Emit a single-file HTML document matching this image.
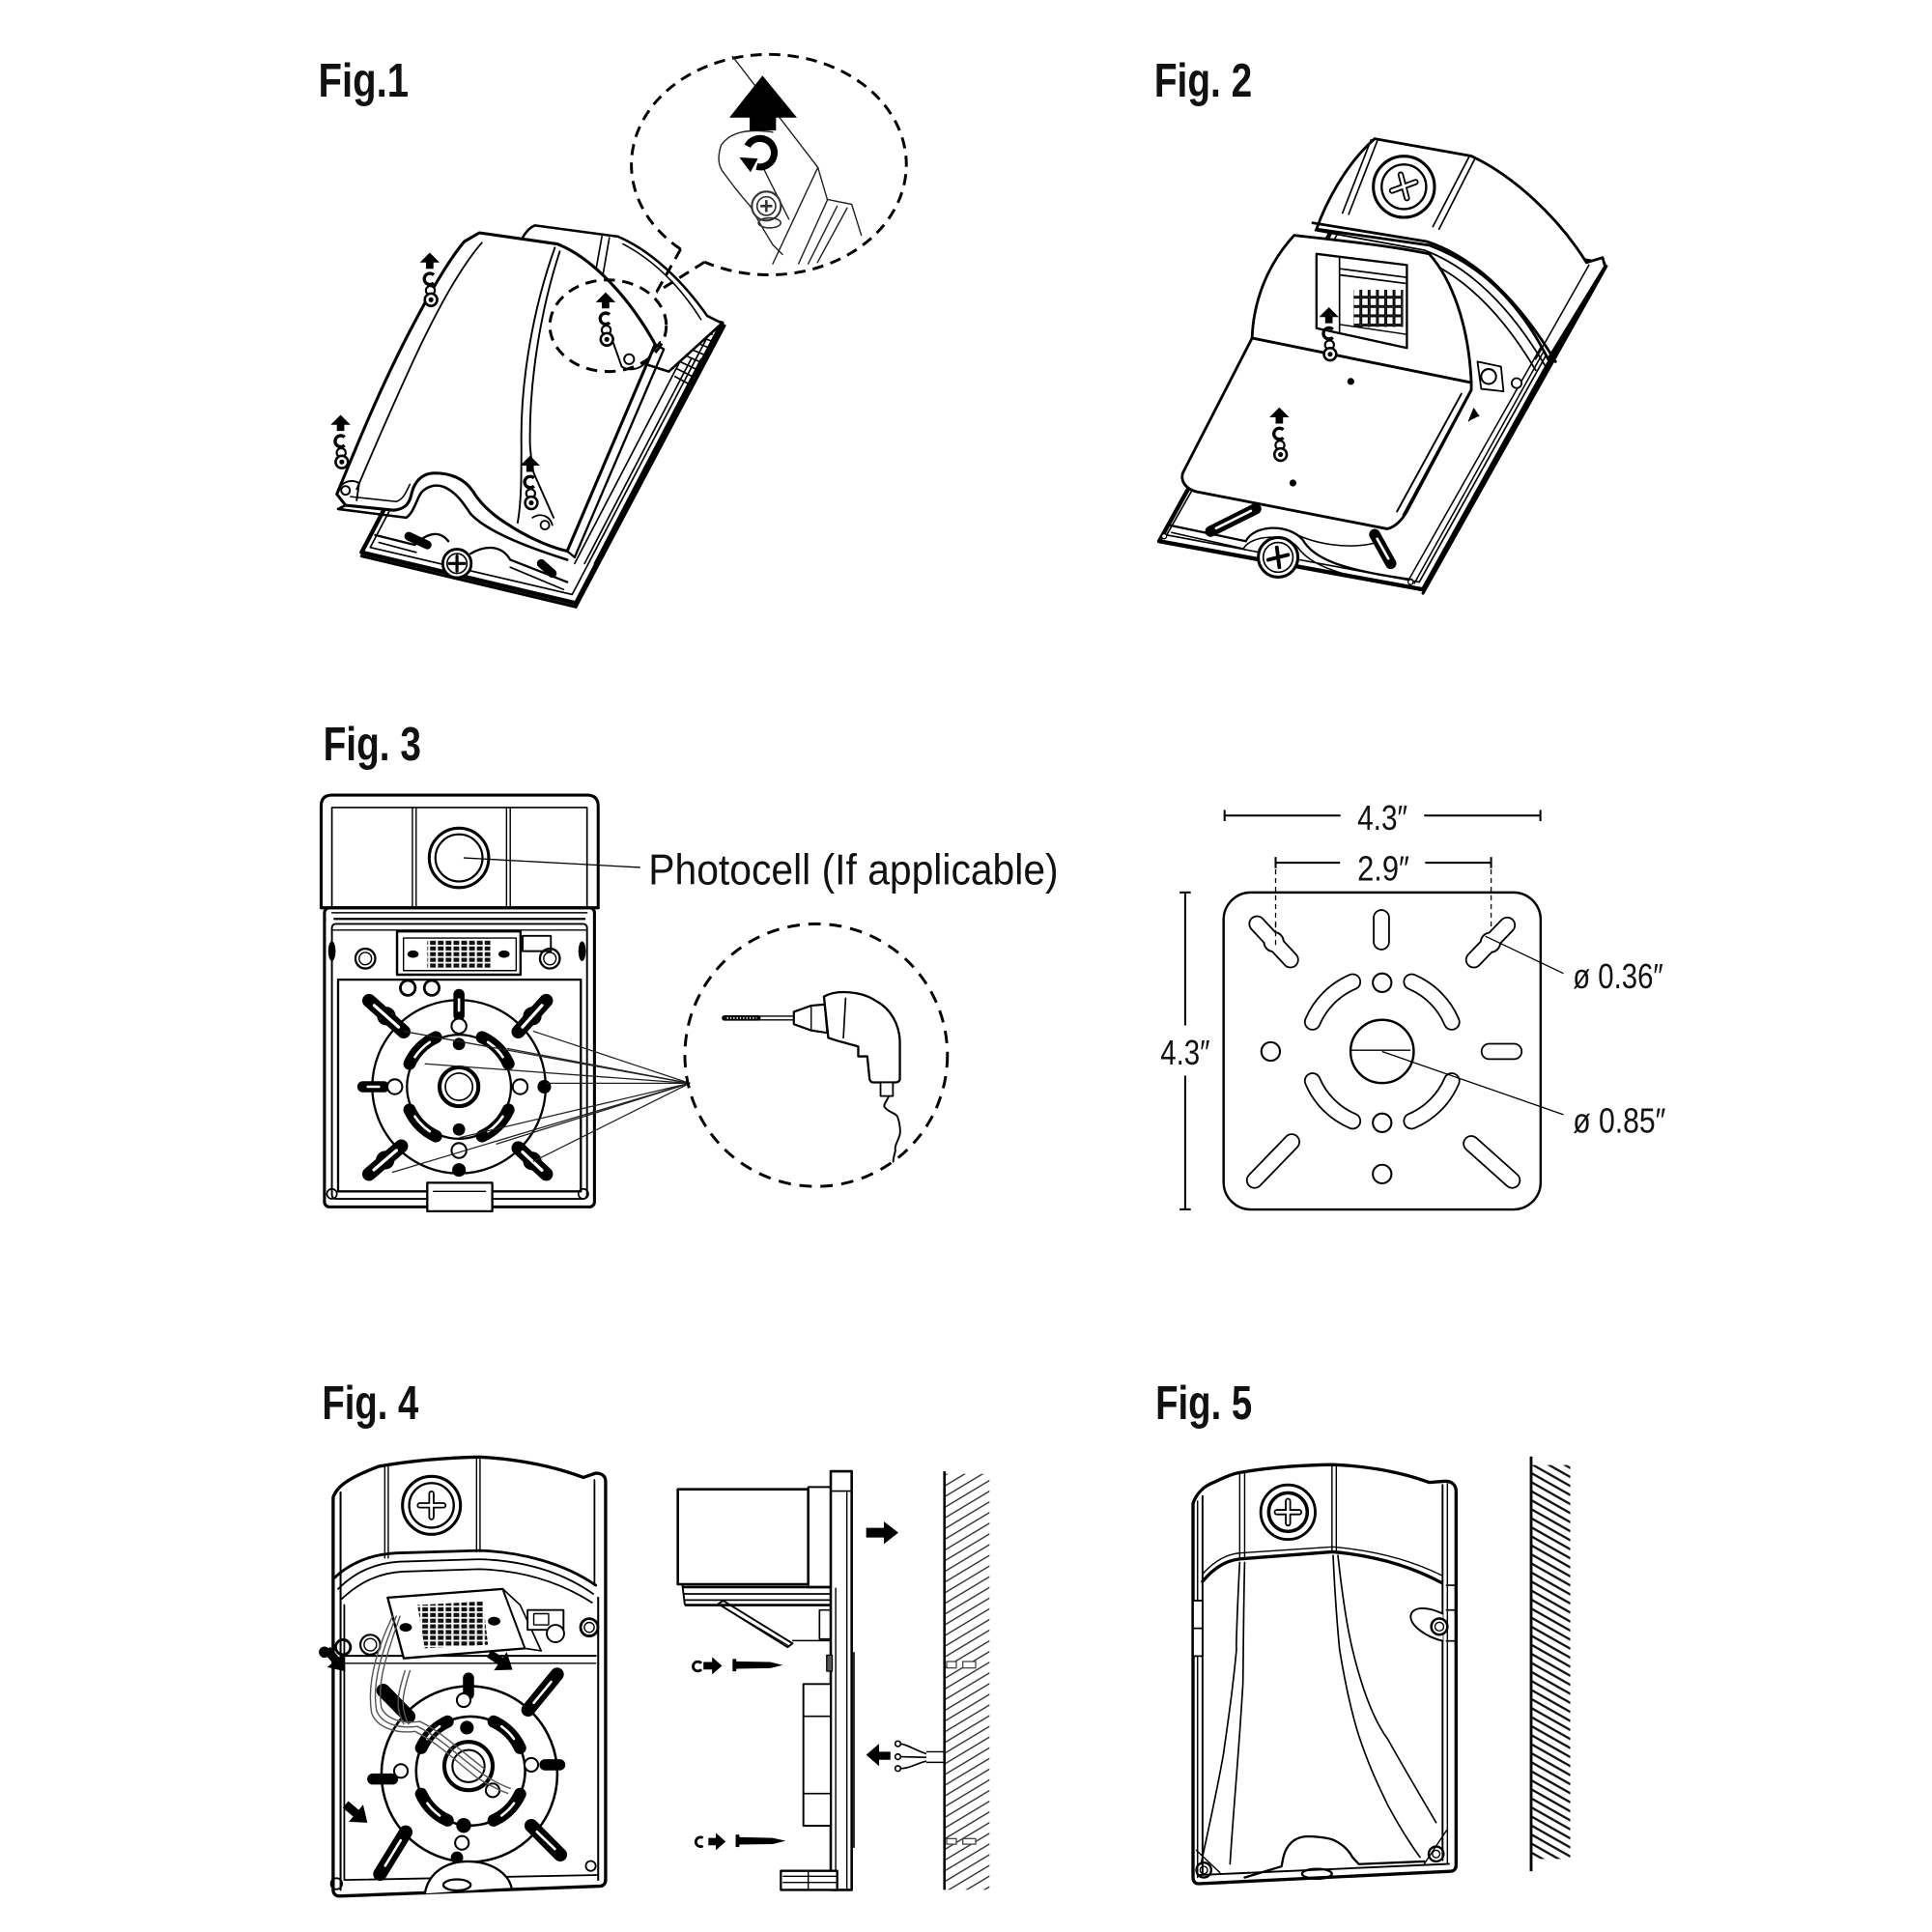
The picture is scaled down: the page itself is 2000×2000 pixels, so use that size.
<!DOCTYPE html>
<html><head><meta charset="utf-8"><style>
html,body{margin:0;padding:0;background:#fff;}
svg{display:block;}
text{font-family:"Liberation Sans Narrow","Liberation Sans",sans-serif;fill:#111;}
</style></head><body>
<svg width="2000" height="2000" viewBox="0 0 1560 1560" xmlns="http://www.w3.org/2000/svg">
<defs>
<pattern id="led" width="6.3" height="4.6" patternUnits="userSpaceOnUse"><rect width="6.3" height="4.6" fill="#fff"/><rect x="0.8" y="0.6" width="4.6" height="3.3" fill="#111"/></pattern>
<pattern id="led2" width="6.7" height="7.5" patternUnits="userSpaceOnUse"><rect x="0.6" y="0.6" width="5.5" height="6.3" fill="#fff" stroke="#000" stroke-width="1.1"/></pattern>
<pattern id="h4" width="20" height="7.4" patternUnits="userSpaceOnUse" patternTransform="rotate(-31)"><rect width="20" height="1.1" fill="#333"/></pattern>
<pattern id="h5" width="20" height="6.35" patternUnits="userSpaceOnUse" patternTransform="rotate(29.5)"><rect width="20" height="1.8" fill="#111"/></pattern>
<g id="sa">
<path d="M0,0 L8,8 L3,8 L3,13 L-3,13 L-3,8 L-8,8 Z" fill="#000"/>
<path d="M3.2,18 A4.5,4.5 0 1 0 3.2,24.5" fill="none" stroke="#000" stroke-width="2.6"/>
<circle cx="0.5" cy="30.5" r="3.6" fill="#fff" stroke="#000" stroke-width="1.7"/>
<circle cx="1" cy="38" r="5" fill="#fff" stroke="#000" stroke-width="2"/>
<circle cx="1" cy="38" r="2" fill="#000"/>
</g>
<clipPath id="c4"><rect x="763" y="1190" width="36" height="336"/></clipPath>
<clipPath id="c5"><rect x="1237" y="1183" width="31" height="318"/></clipPath>
</defs>
<rect width="1560" height="1560" fill="#fff"/>

<!-- Titles -->
<text x="257" y="78" font-size="38" font-weight="bold" textLength="73" lengthAdjust="spacingAndGlyphs">Fig.1</text>
<text x="932" y="78" font-size="38" font-weight="bold" textLength="79" lengthAdjust="spacingAndGlyphs">Fig. 2</text>
<text x="261" y="614" font-size="38" font-weight="bold" textLength="79" lengthAdjust="spacingAndGlyphs">Fig. 3</text>
<text x="260" y="1146" font-size="38" font-weight="bold" textLength="78" lengthAdjust="spacingAndGlyphs">Fig. 4</text>
<text x="933" y="1146" font-size="38" font-weight="bold" textLength="78" lengthAdjust="spacingAndGlyphs">Fig. 5</text>

<!-- ================= FIG 1 ================= -->
<g stroke="#000" fill="#fff" stroke-linejoin="round" stroke-linecap="round">
<polygon points="292,446 465,487 583,261 410,220" stroke-width="3.4"/>
<polygon points="299,442 462,480 576,263 412,226" stroke-width="1.3"/>
<line x1="292" y1="449" x2="465" y2="490" stroke-width="2.4"/>
<line x1="465" y1="490" x2="585" y2="263" stroke-width="2.4"/>
<path d="M303,432 L335,440 C345,430 355,428 362,437 M380,447 C392,440 405,440 412,452 L458,470" fill="none" stroke-width="1.8"/>
<path d="M306,438 L336,446 M412,458 L455,476" fill="none" stroke-width="1.3"/>
<line x1="330" y1="433" x2="345" y2="440" stroke-width="7"/>
<line x1="437" y1="455" x2="446" y2="463" stroke-width="7"/>
<circle cx="369" cy="455" r="11.5" stroke-width="2.2"/>
<circle cx="369" cy="455" r="8" stroke-width="1.3"/>
<path d="M363,455 H375 M369,449 V461" stroke-width="2.5" fill="none"/>
<g fill="none" stroke-width="1.3">
<line x1="550" y1="290" x2="464" y2="455"/>
<line x1="558" y1="290" x2="472" y2="455"/>
<line x1="566" y1="290" x2="480" y2="455"/>
<line x1="555" y1="262" x2="575" y2="270"/><line x1="556" y1="268" x2="576" y2="276"/><line x1="555" y1="274" x2="573" y2="281"/><line x1="553" y1="280" x2="570" y2="287"/><line x1="551" y1="286" x2="567" y2="293"/><line x1="549" y1="292" x2="564" y2="299"/><line x1="547" y1="298" x2="561" y2="305"/><line x1="545" y1="304" x2="558" y2="311"/>
</g>
<path d="M420,196 C423,189 427,184 432,182 L499,191 C527,203 552,228 571,255 L583,261 L540,300 L420,262 Z" stroke-width="2"/>
<line x1="486" y1="191" x2="481" y2="219" stroke-width="1.3"/>
<line x1="492" y1="192" x2="487" y2="221" stroke-width="1.3"/>
<path d="M503,197 C528,210 550,232 566,258" fill="none" stroke-width="1.2"/>
<path d="M387,188 L450,197 C478,208 508,240 529,278 L458,445 C440,441 420,430 411,424 C398,416 388,407 382,397 C375,386 363,382 351,382 C340,382 334,390 332,400 C330,408 326,411 318,412 L279,408 L272,399 C288,360 305,318 328,273 C345,240 362,210 375,195 Z" stroke-width="2.4"/>
<path d="M389,196 C372,216 356,245 340,278 C320,320 303,360 288,395" fill="none" stroke-width="1.4"/>
<path d="M279,408 L273,411 L328,418 C334,414 336,404 340,398 C345,392 352,391 358,393 C368,397 374,406 380,415 C392,428 420,440 458,452" fill="none" stroke-width="2"/>
<path d="M283,401 L320,405 C326,403 328,397 331,391" fill="none" stroke-width="1.2"/>
<path d="M448,200 C430,250 420,310 421,360 C421,385 421,405 418,422" fill="none" stroke-width="1.5"/>
<path d="M452,203 C436,252 427,310 428,360 C429,372 430,378 431,382 L447,418" fill="none" stroke-width="1.5"/>
<path d="M529,278 L536,282 L464,450 L458,445" fill="none" stroke-width="1.8"/>
<path d="M272,399 C274,390 282,386 290,390 L288,404" fill="none" stroke-width="1.5"/>
<circle cx="279" cy="396" r="3.5" stroke-width="1.5"/>
<path d="M491,265 L502,296 C508,300 516,298 520,294 L533,276" fill="none" stroke-width="1.5"/>
<circle cx="508" cy="290" r="4" stroke-width="1.5"/>
<path d="M430,418 C436,414 444,416 446,424" fill="none" stroke-width="1.4"/>
<circle cx="440" cy="424" r="3.5" stroke-width="1.4"/>
</g>
<use href="#sa" x="347" y="204"/>
<use href="#sa" x="275" y="335"/>
<use href="#sa" x="428" y="368"/>
<use href="#sa" x="489" y="236"/>
<g fill="none" stroke="#000" stroke-width="2.3" stroke-dasharray="9 6">
<path d="M549.6,201.2 A111 89 0 1 1 568.9,211.6"/>
<path d="M549.6,201.2 L530,236"/>
<path d="M568.9,211.6 L530,236"/>
<ellipse cx="491" cy="263" rx="47" ry="37"/>
</g>
<g fill="none" stroke="#222" stroke-width="1.1" stroke-linecap="round">
<line x1="591.5" y1="45.5" x2="660.4" y2="135.2"/>
<path d="M660.4,135.2 L668,161 L687.7,165 L695.5,190"/>
<line x1="644.8" y1="213" x2="668.2" y2="161.2"/>
<line x1="652.6" y1="213" x2="676" y2="166.4"/>
<line x1="660" y1="212" x2="684" y2="168"/>
<line x1="624" y1="213" x2="660.4" y2="135.2"/>
<path d="M624,106.6 C605,104 590,106 582.4,117 C579,127 580,135 585,140.4 C592,150 598,158 605.8,166.4 C612,178 618,188 624,197.6 L631.8,205.4"/>
<line x1="616" y1="135" x2="637" y2="177"/>
</g>
<circle cx="618.8" cy="166.4" r="11.7" fill="#fff" stroke="#333" stroke-width="1.6"/>
<circle cx="618.8" cy="166.4" r="7.5" fill="#fff" stroke="#333" stroke-width="1.3"/>
<path d="M614,166.4 H623.6 M618.8,161.6 V171.2" stroke="#333" stroke-width="2"/>
<ellipse cx="621.4" cy="180" rx="9" ry="4" fill="none" stroke="#333" stroke-width="1.3"/>
<polygon points="615.7,61 643.5,95 626.6,95 626.6,105.3 605.3,105.3 605.3,95 588.9,95" fill="#000"/>
<path d="M603.5,118 A11.5,11.5 0 1 1 611,134.5" fill="none" stroke="#000" stroke-width="5.5"/>
<polygon points="597,127 612,128 606,139" fill="#000"/>

<!-- ================= FIG 2 ================= -->
<g stroke="#000" fill="#fff" stroke-linejoin="round" stroke-linecap="round">
<polygon points="936,437 1149,476 1295,213 1082,174" stroke-width="3.4"/>
<polygon points="942,432 1146,470 1288,216 1085,180" stroke-width="1.3"/>
<line x1="1149" y1="479" x2="1297" y2="215" stroke-width="2.4"/>
<line x1="1282" y1="220" x2="1142" y2="471" stroke-width="1.2"/>
<line x1="1275" y1="226" x2="1137" y2="469" stroke-width="1.2"/>
<path d="M944,424 L1006,437 C1012,424 1040,422 1052,436 C1060,450 1080,460 1140,468" fill="none" stroke-width="1.8"/>
<path d="M946,430 L1004,443 C1010,432 1038,430 1048,442 C1057,455 1078,465 1136,474" fill="none" stroke-width="1.2"/>
<path d="M1040,428 C1060,440 1090,444 1112,438" fill="none" stroke-width="1.2"/>
<line x1="977.6" y1="429" x2="1014" y2="410.8" stroke-width="9"/>
<line x1="982" y1="426.5" x2="1010" y2="412.5" stroke="#fff" stroke-width="2"/>
<line x1="1110" y1="431.6" x2="1123" y2="455" stroke-width="9"/>
<line x1="1112" y1="435" x2="1121" y2="451" stroke="#fff" stroke-width="2"/>
<circle cx="1032" cy="450" r="16" stroke-width="2.4"/>
<circle cx="1032" cy="450" r="12" stroke-width="1.3"/>
<path d="M1024,452 L1040,448 M1031,442 L1033,458" stroke-width="3" fill="none"/>
<circle cx="940" cy="433" r="2" stroke-width="1"/>
<circle cx="1139" cy="470" r="2" stroke-width="1"/>
<path d="M1063,185 C1070,165 1086,133 1110,112 L1188,126 C1222,142 1258,175 1281,212 L1294,208 L1296,215 L1250,290 C1230,250 1200,215 1154,198 L1063,185 Z" stroke-width="2.2"/>
<line x1="1107" y1="113" x2="1084" y2="172" stroke-width="1.3"/>
<line x1="1112" y1="114" x2="1089" y2="173" stroke-width="1.3"/>
<line x1="1186" y1="127" x2="1157" y2="183" stroke-width="1.3"/>
<line x1="1191" y1="128" x2="1162" y2="185" stroke-width="1.3"/>
<path d="M1283,214 L1240,290" fill="none" stroke-width="1.2"/>
<circle cx="1133.6" cy="150.8" r="24.7" stroke-width="2.4"/>
<circle cx="1133.6" cy="150.8" r="18" stroke-width="1.8"/>
<path d="M1124,154 L1143,147 M1131,141 L1136,160" stroke-width="5" fill="none"/>
<path d="M1124,154 L1143,147 M1131,141 L1136,160" stroke="#fff" stroke-width="2.2" fill="none"/>
<path d="M1060,180 L1152,195 C1192,208 1228,245 1256,292" fill="none" stroke-width="2.2"/>
<path d="M1062,186 L1150,202 C1188,216 1221,250 1248,296" fill="none" stroke-width="1.4"/>
<path d="M1064,192 L1148,209 C1184,224 1214,255 1240,299" fill="none" stroke-width="1.4"/>
<path d="M1045,190 C1080,194 1120,198 1154,205 C1172,225 1186,262 1188,309 L1011,273 C1012,245 1022,215 1045,190 Z" stroke-width="2.2"/>
<path d="M1011,273 L1188,309 L1188,315 L1136,413 C1132,420 1126,426 1120,427 L966,397 C958,395 953,389 955,382 Z" stroke-width="2.2"/>
<line x1="1188" y1="314" x2="1133" y2="416" stroke-width="1.5"/>
<line x1="1180" y1="318" x2="1128" y2="413" stroke-width="1.5"/>
<path d="M1193,292 L1212,296 L1214,316 L1196,314 Z" stroke-width="1.4"/>
<circle cx="1202" cy="304" r="6" stroke-width="1.6"/>
<circle cx="1224.6" cy="309.4" r="4" stroke-width="1.4"/>
<path d="M1186,340 L1190,330 L1194,336" fill="#000" stroke-width="1"/>
<polygon points="1063,205 1136,214 1136,281 1063,265" stroke-width="1.8"/>
<line x1="1081.6" y1="208" x2="1081.6" y2="268" stroke-width="1.3"/>
<line x1="1082" y1="217" x2="1136" y2="224" stroke-width="1.3"/>
<line x1="1082" y1="222" x2="1136" y2="229" stroke-width="1.3"/>
<rect x="1093" y="234" width="40" height="30" fill="url(#led2)" stroke="none"/>
<line x1="1082" y1="262" x2="1136" y2="270" stroke-width="1.1"/>
</g>
<use href="#sa" x="1073" y="248"/>
<use href="#sa" x="1033" y="329"/>
<circle cx="1090.7" cy="308" r="2.8" fill="#000"/>
<circle cx="1044" cy="390" r="2.8" fill="#000"/>

<!-- ================= FIG 3 ================= -->
<g stroke="#000" fill="none" stroke-linejoin="round" stroke-linecap="round">
<path d="M259.3,733 L259.3,651 Q259.3,642 268,642 L474,642 Q483,642 483,651 L483,733 Z" fill="#fff" stroke-width="2.4"/>
<path d="M268,733 L268,652 L474,652 L474,733" stroke-width="1.3"/>
<line x1="333" y1="652" x2="333" y2="733" stroke-width="1.1"/>
<line x1="336" y1="652" x2="336" y2="733" stroke-width="1.1"/>
<line x1="409" y1="652" x2="409" y2="733" stroke-width="1.1"/>
<line x1="412" y1="652" x2="412" y2="733" stroke-width="1.1"/>
<circle cx="370.6" cy="692.7" r="24" stroke-width="2.4"/>
<circle cx="370.6" cy="692.7" r="19" stroke-width="1.7"/>
<line x1="374.8" y1="692.7" x2="516.6" y2="700.4" stroke-width="1"/>
<rect x="262" y="733" width="218" height="241.5" rx="4" stroke-width="2.4"/>
<line x1="259.3" y1="733" x2="483" y2="733" stroke-width="2.4"/>
<line x1="268" y1="737" x2="474" y2="737" stroke-width="1.1"/>
<line x1="270" y1="742" x2="472" y2="742" stroke-width="1.8"/>
<rect x="268" y="746" width="206" height="222" rx="3" stroke-width="1.5"/>
<rect x="273" y="791" width="196" height="171" stroke-width="1.8"/>
<line x1="268" y1="751" x2="474" y2="751" stroke-width="1.1"/>
<circle cx="295" cy="774" r="8" stroke-width="1.8"/>
<circle cx="295" cy="774" r="5" stroke-width="1.1"/>
<circle cx="444" cy="774" r="8" stroke-width="1.8"/>
<circle cx="444" cy="774" r="5" stroke-width="1.1"/>
<ellipse cx="268" cy="768" rx="3" ry="8" fill="#000" stroke="none"/>
<ellipse cx="470" cy="768" rx="3" ry="8" fill="#000" stroke="none"/>
<rect x="320.6" y="752" width="99.7" height="35" fill="#fff" stroke-width="1.9"/>
<rect x="325.8" y="757.4" width="91" height="26.3" stroke-width="1.1"/>
<rect x="345" y="759" width="51" height="23" fill="url(#led)" stroke="none"/>
<ellipse cx="333.5" cy="770.4" rx="4.5" ry="3" fill="#000" stroke="none"/>
<ellipse cx="407" cy="770.4" rx="4.5" ry="3" fill="#000" stroke="none"/>
<rect x="422" y="755.7" width="22.8" height="12.3" stroke-width="1.5"/>
<circle cx="329.3" cy="797.7" r="6" stroke-width="2.2"/>
<circle cx="348.6" cy="797.7" r="6" stroke-width="2.2"/>
<rect x="345" y="955" width="52.5" height="23" fill="#fff" stroke-width="1.8"/>
<line x1="350" y1="962" x2="392" y2="962" stroke-width="1.1"/>
<circle cx="268" cy="964" r="4" stroke-width="1.3"/>
<circle cx="471" cy="964" r="4" stroke-width="1.3"/>
<circle cx="370.6" cy="877.5" r="70" stroke-width="1.8"/>
<circle cx="370.6" cy="877.5" r="42" stroke-width="1.8"/>
<circle cx="370.6" cy="877.5" r="15.7" stroke-width="3.2"/>
<circle cx="370.6" cy="877.5" r="11" stroke-width="1.3"/>
<g stroke-width="10">
<path d="M330.7,858.9 A44 44 0 0 1 352,837.6"/>
<path d="M389.2,837.6 A44 44 0 0 1 410.5,858.9"/>
<path d="M410.5,896.1 A44 44 0 0 1 389.2,917.4"/>
<path d="M352,917.4 A44 44 0 0 1 330.7,896.1"/>
</g>
<g stroke="#fff" stroke-width="2">
<path d="M335,853.5 A44 44 0 0 1 347,841.5"/>
<path d="M394,841.5 A44 44 0 0 1 406,853.5"/>
<path d="M406,901.5 A44 44 0 0 1 394,913.5"/>
<path d="M347,913.5 A44 44 0 0 1 335,901.5"/>
</g>
<g stroke-width="11">
<line x1="298" y1="808" x2="326" y2="833"/>
<line x1="441" y1="808" x2="418.5" y2="833"/>
<line x1="298" y1="948" x2="324" y2="925.5"/>
<line x1="441" y1="948" x2="418.5" y2="927"/>
<line x1="370.6" y1="803" x2="370.6" y2="820" stroke-width="9"/>
<line x1="293" y1="877.5" x2="310" y2="877.5" stroke-width="9"/>
</g>
<g fill="#000" stroke="none">
<circle cx="312" cy="820.5" r="7.5"/><circle cx="429.8" cy="820.5" r="7.5"/>
<circle cx="311" cy="936.8" r="7.5"/><circle cx="429.8" cy="937.5" r="7.5"/>
<circle cx="370.6" cy="843" r="5"/><circle cx="439.5" cy="877.5" r="5.5"/><circle cx="370.6" cy="944.7" r="5.5"/><circle cx="370.6" cy="912" r="5"/>
</g>
<g stroke="#fff" stroke-width="2.5">
<line x1="302.2" y1="811.8" x2="321.8" y2="829.3"/>
<line x1="437.6" y1="811.8" x2="421.9" y2="829.3"/>
<line x1="301.9" y1="944.6" x2="320.1" y2="928.9"/>
<line x1="437.6" y1="944.9" x2="421.9" y2="930.2"/>
<line x1="370.6" y1="807" x2="370.6" y2="816" stroke-width="2"/>
<line x1="297" y1="877.5" x2="306" y2="877.5" stroke-width="2"/>
</g>
<g fill="#fff" stroke-width="1.6">
<circle cx="370.6" cy="828.5" r="6"/><circle cx="370.6" cy="929" r="6"/>
<circle cx="318.8" cy="877.5" r="6"/><circle cx="420" cy="877.5" r="6"/>
</g>
<g stroke-width="1" stroke="#222">
<line x1="556.8" y1="874.7" x2="325.8" y2="832.7"/>
<line x1="556.8" y1="874.7" x2="343.3" y2="859"/>
<line x1="556.8" y1="874.7" x2="409.8" y2="846.7"/>
<line x1="556.8" y1="874.7" x2="430.8" y2="832.7"/>
<line x1="556.8" y1="874.7" x2="441.3" y2="874.7"/>
<line x1="556.8" y1="874.7" x2="317" y2="946.5"/>
<line x1="556.8" y1="874.7" x2="371.3" y2="918.5"/>
<line x1="556.8" y1="874.7" x2="401" y2="923.7"/>
<line x1="556.8" y1="874.7" x2="430.8" y2="937.7"/>
</g>
<circle cx="659" cy="852" r="106" stroke-width="2.3" stroke-dasharray="10 7" stroke-linecap="butt"/>
<line x1="585" y1="822" x2="612" y2="822" stroke-width="4.4"/>
<line x1="587" y1="822" x2="611" y2="822" stroke="#fff" stroke-width="1.5" stroke-dasharray="1 1.6" stroke-linecap="butt"/>
<path d="M612,820.5 L641,820.5 M612,823.5 L641,823.5" stroke-width="1.1"/>
<path d="M641,817 L655,812 L666,811 L668,834 L655,832 L641,827 Z" fill="#fff" stroke-width="1.7"/>
<line x1="655" y1="812" x2="655" y2="832" stroke-width="1.1"/>
<path d="M665.3,804.7 C675,799 695,800 707.3,808.2 C720,815 726,828 726.6,840 L726.6,871 C726.6,873 725,874 723,874 L705,874 C703,874 702,872 702,870 L700.3,853 L693,853 L693,845 C682,842 674,840 668.8,838 Z" fill="#fff" stroke-width="1.8"/>
<line x1="682.8" y1="806" x2="681" y2="838" stroke-width="1.3"/>
<rect x="711" y="874" width="10" height="11" fill="#fff" stroke-width="1.4"/>
<path d="M717.8,885 C716,889 713,892 714.3,894 C717,898 724,899 724.8,902 C727,908 727,914 726.6,916 C725,922 722,925 723,929 C722,933 721,936 721.3,938" stroke-width="1.5"/>
</g>
<text x="523.6" y="714" font-size="35" textLength="331" lengthAdjust="spacingAndGlyphs">Photocell (If applicable)</text>

<!-- ================= PLATE ================= -->
<g stroke="#000" fill="none" stroke-linecap="butt">
<g stroke-width="1.6">
<line x1="988.8" y1="658.5" x2="1082.4" y2="658.5"/><line x1="1149.9" y1="658.5" x2="1243.8" y2="658.5"/>
<line x1="988.8" y1="654" x2="988.8" y2="663"/><line x1="1243.8" y1="654" x2="1243.8" y2="663"/>
<line x1="1030" y1="696.6" x2="1082" y2="696.6"/><line x1="1150.8" y1="696.6" x2="1204" y2="696.6"/>
<line x1="1030" y1="692" x2="1030" y2="701"/><line x1="1204" y1="692" x2="1204" y2="701"/>
<line x1="957" y1="720.6" x2="957" y2="828"/><line x1="957" y1="868.5" x2="957" y2="976.5"/>
<line x1="952.5" y1="720.6" x2="961.5" y2="720.6"/><line x1="952.5" y1="976.5" x2="961.5" y2="976.5"/>
</g>
<line x1="1030" y1="702" x2="1030" y2="765" stroke-width="1" stroke-dasharray="4 3"/>
<line x1="1204" y1="702" x2="1204" y2="760" stroke-width="1" stroke-dasharray="4 3"/>
<rect x="988" y="720.6" width="256" height="256" rx="22" stroke-width="1.9"/>
<g stroke-linecap="round">
<g stroke="#000" stroke-width="13.8">
<line x1="1015" y1="746" x2="1042" y2="775"/>
<line x1="1217" y1="747" x2="1190" y2="775"/>
<line x1="1115.4" y1="741" x2="1115.4" y2="760.5"/>
<line x1="1202.5" y1="849" x2="1222.5" y2="849"/>
<line x1="1043" y1="922" x2="1013" y2="953"/>
<line x1="1188" y1="923.5" x2="1221" y2="953"/>
<path d="M1059.8,825.2 A61 61 0 0 1 1092.2,792.8"/>
<path d="M1139.8,792.8 A61 61 0 0 1 1172.2,825.2"/>
<path d="M1172.2,872.8 A61 61 0 0 1 1139.8,905.2"/>
<path d="M1092.2,905.2 A61 61 0 0 1 1059.8,872.8"/>
</g>
<circle cx="1028.5" cy="760.5" r="8.7" fill="#000" stroke="none"/>
<circle cx="1203.5" cy="761" r="8.7" fill="#000" stroke="none"/>
<g stroke="#fff" stroke-width="11">
<line x1="1015" y1="746" x2="1042" y2="775"/>
<line x1="1217" y1="747" x2="1190" y2="775"/>
<line x1="1115.4" y1="741" x2="1115.4" y2="760.5"/>
<line x1="1202.5" y1="849" x2="1222.5" y2="849"/>
<line x1="1043" y1="922" x2="1013" y2="953"/>
<line x1="1188" y1="923.5" x2="1221" y2="953"/>
<path d="M1059.8,825.2 A61 61 0 0 1 1092.2,792.8"/>
<path d="M1139.8,792.8 A61 61 0 0 1 1172.2,825.2"/>
<path d="M1172.2,872.8 A61 61 0 0 1 1139.8,905.2"/>
<path d="M1092.2,905.2 A61 61 0 0 1 1059.8,872.8"/>
</g>
<circle cx="1028.5" cy="760.5" r="7.2" fill="#fff" stroke="none"/>
<circle cx="1203.5" cy="761" r="7.2" fill="#fff" stroke="none"/>
</g>
<line x1="1030" y1="745" x2="1030" y2="765" stroke-width="1" stroke-dasharray="4 3"/>
<g stroke-width="1.6" fill="#fff">
<circle cx="1116" cy="793.5" r="7.5"/><circle cx="1116" cy="906.6" r="7.5"/>
<circle cx="1116" cy="948" r="7.5"/><circle cx="1026" cy="849" r="7.5"/>
<circle cx="1116" cy="849" r="25.5" stroke-width="1.9"/>
</g>
<line x1="1091" y1="848" x2="1139" y2="848" stroke-width="1"/>
<line x1="1116" y1="849" x2="1262.4" y2="900" stroke-width="1"/>
<line x1="1199.4" y1="756" x2="1262.4" y2="786" stroke-width="1"/>
</g>
<g font-size="28">
<text x="1096" y="670" textLength="40.5" lengthAdjust="spacingAndGlyphs">4.3″</text>
<text x="1096" y="711" textLength="42" lengthAdjust="spacingAndGlyphs">2.9″</text>
<text x="937" y="859.5" textLength="40" lengthAdjust="spacingAndGlyphs">4.3″</text>
<text x="1270" y="798" textLength="73" lengthAdjust="spacingAndGlyphs">ø 0.36″</text>
<text x="1270" y="914.4" textLength="75" lengthAdjust="spacingAndGlyphs">ø 0.85″</text>
</g>

<!-- ================= FIG 4 LEFT ================= -->
<g stroke="#000" fill="none" stroke-linejoin="round" stroke-linecap="round">
<path d="M269,1209 C272,1200 282,1193 306,1184 C335,1179 360,1177 387,1176.5 C420,1178 450,1185 471,1193 L481,1189.5 C486,1189.5 489,1192 489,1196 L489,1518 C489,1521 487,1523 484,1523 L274,1531 C271,1531 269,1529 269,1526 Z" fill="#fff" stroke-width="2.6"/>
<line x1="275" y1="1205" x2="275" y2="1526" stroke-width="1.6"/>
<line x1="480" y1="1195" x2="480" y2="1280" stroke-width="1.4"/>
<line x1="483" y1="1290" x2="483" y2="1518" stroke-width="1.6"/>
<path d="M269,1275 C282,1262 300,1255 320,1254 L387,1252 C420,1253 455,1262 481,1280" stroke-width="2.2"/>
<path d="M273,1283 C288,1268 305,1262 322,1261 L387,1259 C420,1260 452,1268 479,1287" stroke-width="1.4"/>
<path d="M276,1291 C292,1276 308,1270 325,1269 L387,1267 C420,1268 450,1276 478,1294" stroke-width="1.4"/>
<line x1="310.7" y1="1184" x2="310.7" y2="1258" stroke-width="1.1"/>
<line x1="313.5" y1="1183" x2="313.5" y2="1258" stroke-width="1.1"/>
<line x1="384.8" y1="1177" x2="384.8" y2="1253" stroke-width="1.1"/>
<line x1="387.6" y1="1177" x2="387.6" y2="1253" stroke-width="1.1"/>
<circle cx="348.4" cy="1215.5" r="23.4" stroke-width="2.4"/>
<circle cx="348.4" cy="1215.5" r="18" stroke-width="1.8"/>
<path d="M339,1215.5 H358 M348.4,1206 V1225" stroke-width="5"/>
<path d="M339,1215.5 H358 M348.4,1206 V1225" stroke="#fff" stroke-width="2.2"/>
<path d="M278,1296 L278,1518 L483,1514" stroke-width="1.4"/>
<line x1="277" y1="1337" x2="481" y2="1337" stroke-width="1.6"/>
<line x1="277" y1="1343" x2="481" y2="1343" stroke-width="1.1"/>
<polygon points="313,1290 406,1283 424,1331 326,1339" fill="#fff" stroke-width="1.8"/>
<polygon points="406,1283 420,1296 437,1333 424,1331" fill="#fff" stroke-width="1.3"/>
<polygon points="337,1296 390,1293 394,1328 343,1331" fill="url(#led)" stroke="none"/>
<ellipse cx="327.6" cy="1314" rx="5" ry="3.5" fill="#000" stroke="none"/>
<ellipse cx="399" cy="1309" rx="5" ry="3.5" fill="#000" stroke="none"/>
<rect x="426" y="1300" width="29" height="16" fill="#fff" stroke-width="1.5"/>
<rect x="431" y="1303" width="12" height="9" stroke-width="1.1"/>
<circle cx="448.5" cy="1319" r="7" fill="#fff" stroke-width="1.5"/>
<circle cx="299" cy="1328" r="8" stroke-width="1.7"/>
<circle cx="299" cy="1328" r="5" stroke-width="1.1"/>
<circle cx="277" cy="1330" r="6" stroke-width="2.2"/>
<circle cx="475.8" cy="1314" r="7" stroke-width="2.2"/>
<circle cx="475.8" cy="1314" r="4" stroke-width="1.1"/>
<circle cx="379" cy="1432.5" r="71" stroke-width="2"/>
<circle cx="380" cy="1430" r="44" stroke-width="2"/>
<circle cx="378.3" cy="1426" r="19.5" stroke-width="3.2"/>
<circle cx="378.3" cy="1426" r="13" stroke-width="1.6"/>
<g stroke-width="10">
<path d="M340.1,1411.4 A44 44 0 0 1 361.4,1390.1"/>
<path d="M398.6,1390.1 A44 44 0 0 1 419.9,1411.4"/>
<path d="M419.9,1448.6 A44 44 0 0 1 398.6,1469.9"/>
<path d="M361.4,1469.9 A44 44 0 0 1 340.1,1448.6"/>
<line x1="449.8" y1="1352" x2="426.4" y2="1380.6" stroke-width="11"/>
<line x1="327.6" y1="1479.4" x2="306.8" y2="1513.2" stroke-width="11"/>
<line x1="429" y1="1474.2" x2="452.4" y2="1497.6" stroke-width="11"/>
<line x1="309.4" y1="1365" x2="330" y2="1386" stroke-width="11"/>
<line x1="378.3" y1="1355" x2="378.3" y2="1368" stroke-width="9"/>
<line x1="301" y1="1436.5" x2="317" y2="1436.5" stroke-width="9"/>
<line x1="440" y1="1425" x2="452" y2="1425" stroke-width="9"/>
</g>
<g stroke="#fff" stroke-width="2">
<line x1="445" y1="1358" x2="431" y2="1375"/>
<line x1="323.5" y1="1486" x2="311" y2="1506.5"/>
<line x1="433.5" y1="1479" x2="448" y2="1493"/>
<path d="M345,1404 A44 44 0 0 1 355,1394"/>
<path d="M405,1394 A44 44 0 0 1 415,1404"/>
<path d="M415,1456 A44 44 0 0 1 405,1466"/>
<path d="M355,1466 A44 44 0 0 1 345,1456"/>
</g>
<g fill="#000" stroke="none">
<circle cx="377" cy="1395" r="5.5"/><circle cx="374.4" cy="1474" r="6"/><circle cx="369" cy="1500" r="5"/>
</g>
<g fill="#fff" stroke-width="1.6">
<circle cx="374.4" cy="1372.8" r="5.5"/><circle cx="323.7" cy="1430" r="5.5"/><circle cx="429" cy="1425" r="5.5"/><circle cx="397.8" cy="1445.6" r="5.5"/><circle cx="373" cy="1488" r="5.5"/>
</g>
<g stroke="#555" stroke-width="1.1">
<path d="M317,1305 C305,1330 296,1358 300,1383 C304,1395 320,1400 335,1398 C352,1406 368,1422 386,1436 C396,1442 404,1446 410,1448"/>
<path d="M320,1305 C309,1332 300,1358 304,1381 C308,1392 322,1396 337,1394 C354,1402 370,1418 389,1432 C398,1438 406,1442 412,1444"/>
<path d="M323,1305 C313,1334 304,1358 308,1379 C312,1388 324,1392 339,1390 C356,1398 372,1414 391,1428"/>
<path d="M327,1349 C322,1365 318,1378 326,1392"/>
<path d="M331,1349 C326,1365 322,1378 330,1392"/>
</g>
<circle cx="271.7" cy="1521" r="4.5" stroke-width="1.4"/>
<circle cx="477" cy="1506.7" r="4" stroke-width="1.4"/>
<path d="M343,1529 C346,1512 360,1503 378,1503 C396,1503 410,1512 413,1524" fill="#fff" stroke-width="1.8"/>
<ellipse cx="369" cy="1522" rx="11" ry="4.5" stroke-width="1.8"/>
</g>
<g fill="#000">
<path d="M0,-3.5 L11,-3.5 L11,-9 L23,0 L11,9 L11,3.5 L0,3.5 Z" transform="translate(264,1332) rotate(50)"/>
<path d="M0,-3.5 L11,-3.5 L11,-9 L23,0 L11,9 L11,3.5 L0,3.5 Z" transform="translate(279,1457) rotate(40)"/>
<path d="M0,-3.5 L11,-3.5 L11,-9 L23,0 L11,9 L11,3.5 L0,3.5 Z" transform="translate(395,1335) rotate(35)"/>
<circle cx="262" cy="1334" r="4.5"/>
</g>

<!-- ================= FIG 4 RIGHT ================= -->
<g stroke="#000" fill="none" stroke-linejoin="round">
<rect x="547.3" y="1202.5" width="105.3" height="76.7" fill="#fff" stroke-width="2"/>
<rect x="652.6" y="1200.7" width="18.2" height="81.1" stroke-width="1.5"/>
<rect x="670.8" y="1188" width="16.9" height="338" stroke-width="2"/>
<line x1="670.8" y1="1204" x2="687.7" y2="1204" stroke-width="1.3"/>
<line x1="674.8" y1="1282" x2="674.8" y2="1526" stroke-width="1.1"/>
<line x1="683.8" y1="1204" x2="683.8" y2="1526" stroke-width="1.1"/>
<line x1="689.5" y1="1334" x2="689.5" y2="1492" stroke-width="1.3"/>
<line x1="551" y1="1281.5" x2="671" y2="1281.5" stroke-width="2"/>
<line x1="552" y1="1287" x2="671" y2="1287" stroke-width="1.4"/>
<line x1="552" y1="1292" x2="671" y2="1292" stroke-width="1.4"/>
<line x1="553" y1="1296" x2="671" y2="1296" stroke-width="2"/>
<line x1="551" y1="1280" x2="553" y2="1296" stroke-width="1.5"/>
<polygon points="580,1295 584,1292.5 640,1327 636,1330" stroke-width="1.5"/>
<line x1="583" y1="1297" x2="637" y2="1329" stroke-width="0.9"/>
<rect x="661.7" y="1300" width="9.1" height="23.4" stroke-width="1.3"/>
<line x1="639.6" y1="1324.7" x2="670.8" y2="1324.7" stroke-width="1.2"/>
<rect x="667.5" y="1336.4" width="4.5" height="13" fill="#555" stroke-width="1"/>
<rect x="648.7" y="1359.8" width="22.1" height="114.4" fill="#fff" stroke-width="1.5"/>
<line x1="648.7" y1="1385.8" x2="670.8" y2="1385.8" stroke-width="1.3"/>
<line x1="648.7" y1="1448.2" x2="670.8" y2="1448.2" stroke-width="1.3"/>
<rect x="630.5" y="1510.6" width="45.5" height="15.4" fill="#fff" stroke-width="1.8"/>
<line x1="652.6" y1="1510.6" x2="652.6" y2="1526" stroke-width="1.1"/>
<line x1="632" y1="1515" x2="676" y2="1515" stroke-width="1.1"/>
<line x1="632" y1="1520" x2="676" y2="1520" stroke-width="1.1"/>
<line x1="748" y1="1414.5" x2="762" y2="1414.5" stroke-width="1.1"/>
<line x1="748" y1="1423" x2="762" y2="1423" stroke-width="1.1"/>
<path d="M748,1416 C740,1414 734,1409 727,1408 M748,1419 L727,1418.5 M748,1422 C740,1424 734,1428 727,1428" stroke-width="1.3"/>
<circle cx="725" cy="1408" r="2.2" stroke-width="1.3"/>
<circle cx="725" cy="1418.5" r="2.2" stroke-width="1.3"/>
<circle cx="725" cy="1428" r="2.2" stroke-width="1.3"/>
<path d="M566.3,1343 A3.8,3.8 0 1 0 566.3,1348" stroke-width="2.2"/>
<path d="M567.6,1484 A3.8,3.8 0 1 0 567.6,1490.5" stroke-width="2.2"/>
</g>
<g fill="#000">
<polygon points="699.4,1233.7 713.7,1233.7 713.7,1228.5 725.4,1237.6 713.7,1246.7 713.7,1241.5 699.4,1241.5"/>
<polygon points="719,1414.4 709.8,1414.4 709.8,1408 699.4,1417 709.8,1426 709.8,1421 719,1421"/>
<polygon points="568,1342 575,1342 575,1338 583,1345 575,1352 575,1348 568,1348"/>
<polygon points="572,1484 578,1484 578,1480 586,1487 578,1494 578,1490 572,1490"/>
<rect x="591.5" y="1339.5" width="3" height="10"/>
<polygon points="594,1341.5 622,1342 632,1344.5 622,1347 594,1347.5"/>
<rect x="594" y="1481.4" width="3" height="10"/>
<polygon points="596.5,1483.4 624,1484 634.4,1486.4 624,1489 596.5,1489.4"/>
</g>
<rect x="763" y="1190" width="36" height="336" fill="url(#h4)" clip-path="url(#c4)"/>
<line x1="762.6" y1="1188" x2="762.6" y2="1526" stroke="#000" stroke-width="2"/>
<g fill="#fff" stroke="#444" stroke-width="1">
<rect x="764.4" y="1341.6" width="7.8" height="5.2"/><rect x="777.4" y="1341.6" width="10.4" height="5.2"/>
<rect x="764.4" y="1484.6" width="7.8" height="4.5"/><rect x="777.4" y="1484.6" width="10.4" height="4.5"/>
</g>

<!-- ================= FIG 5 ================= -->
<g stroke="#000" fill="none" stroke-linejoin="round" stroke-linecap="round">
<path d="M963.3,1214 C966,1206 972,1200 980,1197 C988,1193 995,1190 1001,1189 C1030,1184 1055,1183 1076,1182.6 C1110,1184 1135,1190 1154,1197 L1167,1196 C1172,1196 1175.7,1199 1175.7,1204 L1175.7,1506 C1175.7,1509 1174,1511 1171,1511 L968,1521 C965,1521 963.3,1519 963.3,1516 Z" fill="#fff" stroke-width="2.6"/>
<line x1="971" y1="1208" x2="971" y2="1512" stroke-width="1.5"/>
<line x1="967" y1="1212" x2="967" y2="1516" stroke-width="1.1"/>
<line x1="1164.8" y1="1199" x2="1164.8" y2="1502" stroke-width="1.5"/>
<line x1="1168.7" y1="1198" x2="1168.7" y2="1504" stroke-width="1.1"/>
<line x1="1001" y1="1189" x2="1001" y2="1258" stroke-width="1.1"/>
<line x1="1005" y1="1188" x2="1005" y2="1258" stroke-width="1.1"/>
<line x1="1075.5" y1="1182.6" x2="1075.5" y2="1253" stroke-width="1.1"/>
<line x1="1079" y1="1182.6" x2="1079" y2="1253" stroke-width="1.1"/>
<circle cx="1040" cy="1221" r="22" stroke-width="2.2"/>
<circle cx="1040" cy="1221" r="15.6" stroke-width="2.8"/>
<path d="M1031,1221 H1049 M1040,1212 V1230" stroke-width="5"/>
<path d="M1031,1221 H1049 M1040,1212 V1230" stroke="#fff" stroke-width="2.2"/>
<path d="M971,1277 C980,1266 990,1260 1001,1258.8 L1076,1253 C1110,1256 1140,1265 1164,1278" stroke-width="2.6"/>
<path d="M971,1271 C980,1261 990,1255 1001,1254 L1076,1249 C1110,1252 1140,1260 1164,1272" stroke-width="1.1"/>
<path d="M1001,1261.6 C999,1300 998,1330 998.4,1331.6 C995,1370 990,1400 988,1415.6 C982,1450 975,1480 969.8,1505" stroke-width="1.3"/>
<path d="M1005,1261.6 C1004,1300 1004,1340 1003.6,1359.6 C1000,1420 996,1460 993.2,1505" stroke-width="1.3"/>
<path d="M1076.4,1256 C1078,1290 1080,1315 1081.6,1331.6 C1087,1365 1092,1385 1097.2,1401.6 C1105,1425 1112,1440 1120.6,1457.6 C1130,1475 1138,1488 1146.6,1499.6" stroke-width="1.3"/>
<path d="M1080.3,1256 C1084,1290 1088,1315 1092,1331.6 C1100,1365 1110,1390 1120.6,1404.4 C1135,1430 1148,1452 1159.6,1471.6" stroke-width="1.3"/>
<path d="M1005,1516 L1034.8,1507 C1036,1500 1037,1495 1040,1491 C1044,1485 1050,1483 1055.6,1482.8 C1064,1483 1072,1484 1076.4,1485.6 C1084,1489 1089,1494 1092,1499.6 L1097.2,1505.2 L1150,1503" stroke-width="1.8"/>
<line x1="968" y1="1514" x2="1170" y2="1505" stroke-width="1.5"/>
<ellipse cx="1063.4" cy="1513" rx="12" ry="4" stroke-width="1.8"/>
<circle cx="972" cy="1510" r="6" stroke-width="1.8"/>
<circle cx="972" cy="1510" r="3" stroke-width="1.1"/>
<circle cx="1159.6" cy="1497" r="6" stroke-width="1.8"/>
<circle cx="1159.6" cy="1497" r="3" stroke-width="1.1"/>
<path d="M966,1494 L985,1512 M1168,1478 L1150,1505" stroke-width="1.1"/>
<path d="M1165,1303 C1150,1296 1140,1298 1139,1305 C1139,1313 1152,1322 1165,1325" fill="#fff" stroke-width="1.5"/>
<circle cx="1162.2" cy="1313.4" r="6.5" fill="#fff" stroke-width="2"/>
<circle cx="1162.2" cy="1313.4" r="3.5" stroke-width="1.1"/>
<rect x="963.3" y="1292.4" width="7.7" height="44.8" fill="#fff" stroke-width="1.4"/>
<line x1="963.3" y1="1314.8" x2="971" y2="1314.8" stroke-width="1.4"/>
<line x1="1168" y1="1280" x2="1176" y2="1280" stroke-width="1.3"/>
<line x1="1168" y1="1300" x2="1176" y2="1300" stroke-width="1.3"/>
<line x1="1168" y1="1325" x2="1176" y2="1325" stroke-width="1.3"/>
</g>
<rect x="1237" y="1170" width="31" height="340" fill="url(#h5)" clip-path="url(#c5)"/>
<line x1="1236.3" y1="1176" x2="1236.3" y2="1511" stroke="#000" stroke-width="2.2"/>
</svg>
</body></html>
